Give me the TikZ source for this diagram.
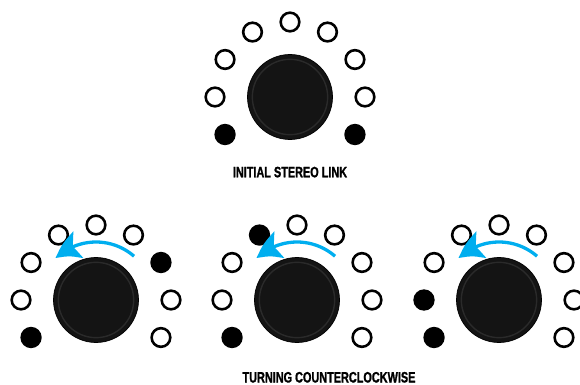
\documentclass[tikz,border=0pt]{standalone}
\usepackage{fontspec}
\usetikzlibrary{arrows.meta,bending}
\newfontfamily\capfont[FakeStretch=0.72,FakeBold=1.2]{Liberation Sans}
\definecolor{C1}{HTML}{00AEEF}
\definecolor{K1}{HTML}{141414}
\definecolor{K2}{HTML}{2A2A2A}

\begin{document}
\begin{tikzpicture}[x=0.03cm,y=0.03cm]
\tikzstyle{knob} = [circle,fill=K1,draw=black,line width=0.6pt,minimum size=2.55cm,inner sep=0mm,
  path picture={\draw[K2,line width=1.2pt] (path picture bounding box.center) circle[radius=1.13cm];}]
\tikzstyle{ledoff} = [circle,draw=black,line width=2.2pt,minimum size=0.56cm,inner sep=0mm]
\tikzstyle{ledon} = [circle,fill=black,minimum size=0.64cm,inner sep=0mm]
\tikzstyle{turn} = [C1,line width=2.8pt,-{Stealth[length=23pt,width=24pt,inset=5pt,bend]}]
\tikzstyle{lbl} = [font=\capfont\bfseries\fontsize{12.9}{14}\selectfont,inner sep=0pt,anchor=base]
\def\r{75}
\useasboundingbox (0,0) rectangle (580,384);
% knobs
\node[knob] (init) at (290,287) {};
\node[knob] (turn1) at (96,84) {};
\node[knob] (turn2) at (297,84) {};
\node[knob] (turn3) at (499,84) {};
% leds
\foreach \a/\s [count=\i] in {210/ledon,180/ledoff,150/ledoff,120/ledoff,90/ledoff,60/ledoff,30/ledoff,0/ledoff,-30/ledon}
  \node[\s] (init-\i) at ([shift={(\a:\r)}]init.center) {};
\foreach \a/\s [count=\i] in {210/ledon,180/ledoff,150/ledoff,120/ledoff,90/ledoff,60/ledoff,30/ledon,0/ledoff,-30/ledoff}
  \node[\s] (turn1-\i) at ([shift={(\a:\r)}]turn1.center) {};
\foreach \a/\s [count=\i] in {210/ledon,180/ledoff,150/ledoff,120/ledon,90/ledoff,60/ledoff,30/ledoff,0/ledoff,-30/ledoff}
  \node[\s] (turn2-\i) at ([shift={(\a:\r)}]turn2.center) {};
\foreach \a/\s [count=\i] in {210/ledon,180/ledon,150/ledoff,120/ledoff,90/ledoff,60/ledoff,30/ledoff,0/ledoff,-30/ledoff}
  \node[\s] (turn3-\i) at ([shift={(\a:\r)}]turn3.center) {};
% arrows
\draw[turn] ([shift={(49:58)}]turn1.center) arc[start angle=49,end angle=134,radius=58];
\draw[turn] ([shift={(49:58)}]turn2.center) arc[start angle=49,end angle=134,radius=58];
\draw[turn] ([shift={(49:58)}]turn3.center) arc[start angle=49,end angle=134,radius=58];
% labels
\node[lbl] (t1) at (290,206.7) {INITIAL STEREO LINK};
\node[lbl] (t2) at (329,1.5) {TURNING COUNTERCLOCKWISE};
\end{tikzpicture}
\end{document}
